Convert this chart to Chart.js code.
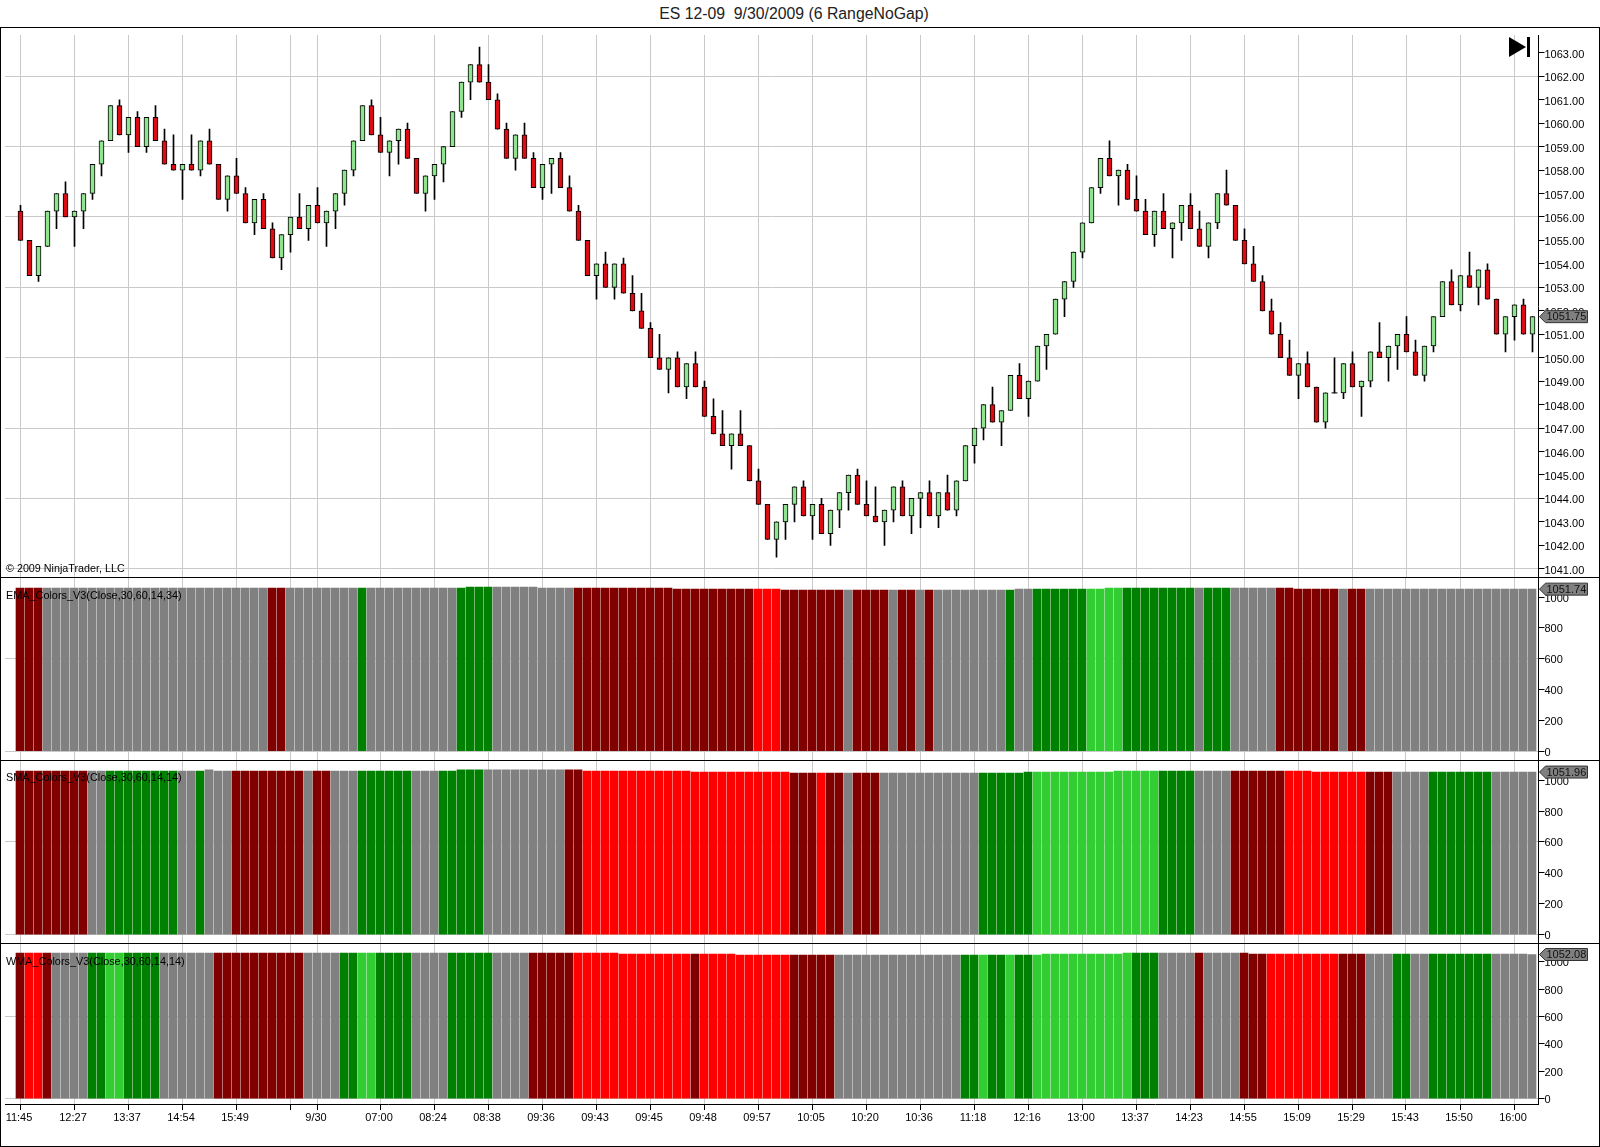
<!DOCTYPE html>
<html>
<head>
<meta charset="utf-8">
<title>ES 12-09 9/30/2009</title>
<script src="https://cdn.jsdelivr.net/npm/chart.js@4/dist/chart.umd.min.js"></script>
<style>
  html, body { margin: 0; padding: 0; background: #fff; overflow: hidden; }
  body { width: 1600px; height: 1147px; position: relative; font-family: "Liberation Sans", Arial, sans-serif; }
  canvas { position: absolute; left: 5px; display: block; }
  .frame { position: absolute; left: 0; top: 27px; width: 1600px; height: 1120px; box-sizing: border-box; border: 1px solid #000; }
  .divider { position: absolute; left: 0; width: 1600px; height: 1px; background: #000; z-index: 2; }
  .title { position: absolute; left: 0; width: 1588px; top: 5px; text-align: center; font-size: 15.8px; color: #222; white-space: pre; }
  .note { position: absolute; left: 6px; font-size: 10.87px; color: #000; z-index: 3; white-space: pre; }
  .skip { position: absolute; left: 1509px; top: 37px; z-index: 3; }
</style>
</head>
<body>
<div class="title">ES 12-09  9/30/2009 (6 RangeNoGap)</div>
<div class="frame"></div>
<canvas id="priceChart" width="1595" height="548" style="top:29px"></canvas>
<canvas id="emaChart" width="1595" height="183" style="top:578px"></canvas>
<canvas id="smaChart" width="1595" height="183" style="top:761px"></canvas>
<canvas id="wmaChart" width="1595" height="202" style="top:944px"></canvas>
<div class="divider" style="top:577px"></div>
<div class="divider" style="top:760px"></div>
<div class="divider" style="top:943px"></div>
<div class="note" style="top:562px;font-size:10.75px">© 2009 NinjaTrader, LLC</div>
<div class="note" style="top:589px">EMA_Colors_V3(Close,30,60,14,34)</div>
<div class="note" style="top:771px">SMA_Colors_V3(Close,30,60,14,14)</div>
<div class="note" style="top:955px">WMA_Colors_V3(Close,30,60,14,14)</div>
<svg class="skip" width="22" height="21"><path d="M0 0L17 10L0 20Z" fill="#000"/><rect x="18" y="0" width="3" height="20" fill="#000"/></svg>
<script>
// Candles, one row per 10 bars
const opens = [
  1056.25,1055,1053.5,1054.75,1056.25,1057,1056,1056.25,1057,1058.25,
  1059.25,1060.75,1059.5,1060.25,1059,1060.25,1059.25,1058.25,1058,1058.25,
  1058,1059.25,1058.25,1056.75,1057.75,1057,1055.75,1056.75,1055.5,1054.25,
  1055.25,1056,1055.5,1056.5,1055.75,1056.25,1057,1058,1059.25,1060.75,
  1059.5,1058.75,1059.25,1059.75,1058.5,1057,1057.75,1058.25,1059,1060.5,
  1061.75,1062.5,1061.75,1061,1059.75,1058.5,1059.5,1058.5,1057.25,1058.25,
  1058.5,1057.25,1056.25,1055,1053.5,1054,1053,1054,1052.75,1052,
  1051.25,1050,1049.5,1050,1048.75,1049.75,1048.75,1047.5,1046.75,1046.25,
  1046.75,1046.25,1044.75,1043.75,1042.25,1043,1043.75,1044.5,1043.25,1043.75,
  1042.5,1043.5,1044.25,1045,1043.75,1043.25,1043,1043.5,1044.5,1043.25,
  1044,1044.25,1043.25,1044.25,1043.5,1044.75,1046.25,1047,1048,1047.25,
  1047.75,1049.25,1048.25,1049,1050.5,1051,1052.5,1053.25,1054.5,1055.75,
  1057.25,1058.5,1057.75,1058,1056.75,1056.25,1055.25,1056.25,1055.5,1055.75,
  1056.5,1055.5,1054.75,1055.75,1057,1056.5,1055,1054,1053.25,1052,
  1051,1050,1049.25,1049.75,1048.75,1047.25,1048.5,1048.5,1049.75,1048.75,
  1049,1050.25,1050,1050.5,1051,1050.25,1049.25,1050.5,1051.75,1053.25,
  1052.25,1053.5,1053,1053.75,1052.5,1051,1051.75,1052.25,1051
];
const highs = [
  1056.5,1055,1054.75,1056.25,1057,1057.5,1056.25,1057,1058.25,1059.25,
  1060.75,1061,1060.25,1060.5,1060.25,1060.75,1059.75,1059.5,1058.25,1059.5,
  1059.25,1059.75,1058.25,1057.75,1058.5,1057.25,1056.75,1057,1055.75,1055.25,
  1056,1057,1056.5,1057.25,1056.25,1057,1058,1059.25,1060.75,1061,
  1060.25,1059.25,1059.75,1060,1058.5,1057.75,1058.25,1059,1060.5,1061.75,
  1062.5,1063.25,1062.5,1061.25,1060,1059.5,1060,1058.75,1058.25,1058.5,
  1058.75,1057.75,1056.5,1055,1054,1054.5,1054,1054.25,1053.5,1052.75,
  1051.5,1051,1050,1050.25,1049.75,1050.25,1049,1048.25,1047.75,1046.75,
  1047.75,1046.25,1045.25,1043.75,1043,1043.75,1044.5,1044.75,1043.75,1044,
  1043.5,1044.25,1045,1045.25,1044.75,1044.5,1043.5,1044.5,1044.75,1044,
  1044.25,1044.75,1044.25,1045,1044.75,1046.25,1047,1048,1048.75,1047.75,
  1049.25,1049.75,1049,1050.5,1051,1052.5,1053.25,1054.5,1055.75,1057.25,
  1058.5,1059.25,1058,1058.25,1057.75,1056.75,1056.25,1057,1055.75,1056.5,
  1057,1056.25,1055.75,1057,1058,1056.5,1055.5,1054.75,1053.5,1052.5,
  1051.5,1050.75,1049.75,1050.25,1048.75,1048.5,1050,1049.75,1050.25,1049,
  1050.25,1051.5,1050.5,1051,1051.75,1050.75,1050.5,1051.75,1053.25,1053.75,
  1053.5,1054.5,1053.75,1054,1052.5,1051.75,1052.25,1052.5,1051.75
];
const lows = [
  1055,1053.5,1053.25,1054.75,1055.5,1056,1054.75,1055.5,1056.75,1057.75,
  1059.25,1059.5,1058.75,1059,1058.75,1059.25,1058.25,1058,1056.75,1058,
  1057.75,1058.25,1056.75,1056.25,1057,1055.75,1055.25,1055.5,1054.25,1053.75,
  1054.5,1055.5,1055,1055.75,1054.75,1055.5,1056.5,1057.75,1059.25,1059.5,
  1058.75,1057.75,1058.25,1058.5,1057,1056.25,1056.75,1057.5,1059,1060.25,
  1061,1061.75,1061,1059.75,1058.5,1058,1058.5,1057.25,1056.75,1057,
  1057.25,1056.25,1055,1053.5,1052.5,1053,1052.5,1052.75,1052,1051.25,
  1050,1049.5,1048.5,1048.75,1048.25,1048.75,1047.5,1046.75,1046.25,1045.25,
  1046.25,1044.75,1043.75,1042.25,1041.5,1042.25,1043,1043.25,1042.25,1042.5,
  1042,1042.75,1043.5,1043.75,1043.25,1043,1042,1043,1043.25,1042.5,
  1042.75,1043.25,1042.75,1043.5,1043.25,1044.75,1045.5,1046.5,1047.25,1046.25,
  1047.75,1048.25,1047.5,1049,1049.5,1051,1051.75,1053,1054.25,1055.75,
  1057,1057.75,1056.5,1056.75,1056.25,1055.25,1054.75,1055.5,1054.25,1055,
  1055.5,1054.75,1054.25,1055.5,1056.5,1055,1054,1053.25,1052,1051,
  1050,1049.25,1048.25,1048.75,1047.25,1047,1048.5,1048.25,1048.75,1047.5,
  1048.75,1050,1049,1049.5,1050.25,1049.25,1049,1050.25,1051.75,1052.25,
  1052,1053,1052.25,1052.5,1051,1050.25,1050.75,1051,1050.25
];
const closes = [
  1055,1053.5,1054.75,1056.25,1057,1056,1056.25,1057,1058.25,1059.25,
  1060.75,1059.5,1060.25,1059,1060.25,1059.25,1058.25,1058,1058.25,1058,
  1059.25,1058.25,1056.75,1057.75,1057,1055.75,1056.75,1055.5,1054.25,1055.25,
  1056,1055.5,1056.5,1055.75,1056.25,1057,1058,1059.25,1060.75,1059.5,
  1058.75,1059.25,1059.75,1058.5,1057,1057.75,1058.25,1059,1060.5,1061.75,
  1062.5,1061.75,1061,1059.75,1058.5,1059.5,1058.5,1057.25,1058.25,1058.5,
  1057.25,1056.25,1055,1053.5,1054,1053,1054,1052.75,1052,1051.25,
  1050,1049.5,1050,1048.75,1049.75,1048.75,1047.5,1046.75,1046.25,1046.75,
  1046.25,1044.75,1043.75,1042.25,1043,1043.75,1044.5,1043.25,1043.75,1042.5,
  1043.5,1044.25,1045,1043.75,1043.25,1043,1043.5,1044.5,1043.25,1044,
  1044.25,1043.25,1044.25,1043.5,1044.75,1046.25,1047,1048,1047.25,1047.75,
  1049.25,1048.25,1049,1050.5,1051,1052.5,1053.25,1054.5,1055.75,1057.25,
  1058.5,1057.75,1058,1056.75,1056.25,1055.25,1056.25,1055.5,1055.75,1056.5,
  1055.5,1054.75,1055.75,1057,1056.5,1055,1054,1053.25,1052,1051,
  1050,1049.25,1049.75,1048.75,1047.25,1048.5,1048.5,1049.75,1048.75,1049,
  1050.25,1050,1050.5,1051,1050.25,1049.25,1050.5,1051.75,1053.25,1052.25,
  1053.5,1053,1053.75,1052.5,1051,1051.75,1052.25,1051,1051.75
];

// Indicator panes: bar height is the moving average, colour is its trend state
const emaValues = [
  1059,1059,1059,1059,1059,1059,1059,1059,1059,1059,
  1059,1059,1059,1059,1059,1059,1059,1059,1059,1059,
  1059,1059,1059,1059,1059,1059,1059,1059,1059,1059,
  1059,1059,1059,1059,1059,1059,1059,1059,1059,1059,
  1059,1059,1059,1059,1059,1059,1059,1059,1059,1059,
  1065,1065,1065,1065,1065,1065,1065,1065,1059,1059,
  1059,1059,1059,1059,1059,1059,1059,1059,1059,1059,
  1059,1059,1059,1052,1052,1052,1052,1052,1052,1052,
  1052,1052,1052,1052,1052,1046,1046,1046,1046,1046,
  1046,1046,1046,1046,1046,1046,1046,1046,1046,1046,
  1046,1046,1046,1046,1046,1046,1046,1046,1046,1046,
  1046,1052,1052,1052,1052,1052,1052,1052,1052,1052,
  1052,1059,1059,1059,1059,1059,1059,1059,1059,1059,
  1059,1059,1059,1059,1059,1059,1059,1059,1059,1059,
  1059,1059,1052,1052,1052,1052,1052,1052,1052,1052,
  1052,1052,1052,1052,1052,1052,1052,1052,1052,1052,
  1052,1052,1052,1052,1052,1052,1052,1052,1051.74
];
const smaValues = [
  1059,1059,1059,1059,1059,1059,1059,1059,1059,1059,
  1059,1059,1059,1059,1059,1059,1059,1059,1059,1059,
  1059,1066,1059,1059,1059,1059,1059,1059,1059,1059,
  1059,1059,1059,1059,1059,1059,1059,1059,1059,1059,
  1059,1059,1059,1059,1059,1059,1059,1059,1059,1066,
  1066,1066,1066,1066,1066,1066,1066,1066,1066,1066,
  1066,1066,1066,1059,1059,1059,1059,1059,1059,1059,
  1059,1059,1059,1059,1059,1052,1052,1052,1052,1052,
  1052,1052,1052,1052,1052,1052,1046,1046,1046,1046,
  1046,1046,1046,1046,1046,1046,1046,1046,1046,1046,
  1046,1046,1046,1046,1046,1046,1046,1046,1046,1046,
  1046,1046,1052,1052,1052,1052,1052,1052,1052,1052,
  1052,1052,1059,1059,1059,1059,1059,1059,1059,1059,
  1059,1059,1059,1059,1059,1059,1059,1059,1059,1059,
  1059,1059,1059,1059,1052,1052,1052,1052,1052,1052,
  1052,1052,1052,1052,1052,1052,1052,1052,1052,1052,
  1052,1052,1052,1052,1052,1052,1052,1052,1051.96
];
const wmaValues = [
  1063,1063,1063,1063,1063,1063,1063,1063,1063,1063,
  1063,1063,1063,1063,1063,1063,1063,1063,1063,1063,
  1063,1063,1063,1063,1063,1063,1063,1063,1063,1063,
  1063,1063,1063,1063,1063,1063,1063,1063,1063,1063,
  1063,1063,1063,1063,1063,1063,1063,1063,1063,1063,
  1063,1063,1063,1063,1063,1063,1063,1063,1063,1063,
  1063,1063,1063,1063,1063,1063,1063,1056,1056,1056,
  1056,1056,1056,1056,1056,1056,1056,1056,1056,1056,
  1048,1048,1048,1048,1048,1048,1048,1048,1048,1048,
  1048,1048,1048,1048,1048,1048,1048,1048,1048,1048,
  1048,1048,1048,1048,1048,1048,1048,1048,1048,1048,
  1048,1048,1048,1048,1056,1056,1056,1056,1056,1056,
  1056,1056,1056,1063,1063,1063,1063,1063,1063,1063,
  1063,1063,1063,1063,1063,1063,1063,1056,1056,1056,
  1056,1056,1056,1056,1056,1056,1056,1056,1056,1056,
  1056,1056,1056,1056,1056,1056,1056,1056,1056,1056,
  1056,1056,1056,1056,1056,1056,1056,1056,1052.08
];
// [state, number of bars]: D dark red, R red, N neutral, G green, L light green
const emaStates = [['D',3],['N',25],['D',2],['N',8],['G',1],['N',10],['G',4],['N',9],['D',20],['R',3],['D',7],['N',1],['D',4],['N',1],['D',2],['N',1],['D',1],['N',8],['G',1],['N',2],['G',6],['L',4],['G',8],['N',1],['G',3],['N',5],['D',7],['N',1],['D',2],['N',19]];
const smaStates = [['D',8],['N',2],['G',8],['N',2],['G',1],['N',3],['D',8],['N',1],['D',2],['N',3],['G',6],['N',3],['G',5],['N',9],['D',2],['R',23],['D',3],['R',1],['D',2],['N',1],['D',3],['N',11],['G',6],['L',14],['G',4],['N',4],['D',6],['R',9],['D',3],['N',4],['G',7],['N',5]];
const wmaStates = [['D',1],['R',2],['D',1],['N',4],['G',2],['L',2],['G',4],['N',6],['D',10],['N',4],['G',2],['L',2],['G',4],['N',4],['G',5],['N',4],['D',5],['R',13],['D',1],['R',10],['D',5],['N',14],['G',2],['L',1],['G',2],['L',1],['G',2],['L',11],['G',3],['N',4],['D',1],['N',4],['D',3],['R',8],['D',3],['N',3],['G',2],['N',2],['G',7],['N',5]];

// Axes
const timeTickBars = [0,6,12,18,24,30,33,40,46,52,58,64,70,76,82,88,94,100,106,112,118,124,130,136,142,148,154,160,166];
const timeTickLabels = ['11:45','12:27','13:37','14:54','15:49','','9/30','07:00','08:24','08:38','09:36','09:43','09:45','09:48','09:57','10:05','10:20','10:36','11:18','12:16','13:00','13:37','14:23','14:55','15:09','15:29','15:43','15:50','16:00'];
const priceTicks = [1041,1042,1043,1044,1045,1046,1047,1048,1049,1050,1051,1052,1053,1054,1055,1056,1057,1058,1059,1060,1061,1062,1063];
const priceGridLines = [1041,1044,1047,1050,1053,1056,1059,1062];
const bandTicks = [0,200,400,600,800,1000];
const bandGridLines = [0,600];

const stateColors = { D: '#800000', R: '#ff0000', N: '#808080', G: '#008000', L: '#32cd32' };
const FONT = { family: '"Liberation Sans", Arial, sans-serif', size: 11 };
const GRID_COLOR = '#c9c9c9';
const AREA_WIDTH = 1533.5;
const BAR_STEP = 9;

Chart.defaults.animation = false;
Chart.defaults.responsive = false;

function expandStates(runs) {
    const out = [];
    runs.forEach(([state, count]) => {
        for (let i = 0; i < count; i++) out.push(stateColors[state]);
    });
    return out;
}

// Grey arrow tag on the price axis with the last value
const lastValueTag = {
    id: 'lastValueTag',
    afterDraw(chart, args, opts) {
        const y = chart.scales.y.getPixelForValue(opts.value);
        const left = chart.chartArea.right + 1;
        const ctx = chart.ctx;
        ctx.save();
        ctx.beginPath();
        ctx.moveTo(left, y);
        ctx.lineTo(left + 6, y - 6);
        ctx.lineTo(left + 48, y - 6);
        ctx.lineTo(left + 48, y + 6);
        ctx.lineTo(left + 6, y + 6);
        ctx.closePath();
        ctx.fillStyle = '#808080';
        ctx.fill();
        ctx.strokeStyle = '#333';
        ctx.lineWidth = 1;
        ctx.stroke();
        ctx.fillStyle = '#111';
        ctx.font = '11px "Liberation Sans", Arial, sans-serif';
        ctx.textAlign = 'left';
        ctx.textBaseline = 'middle';
        ctx.fillText(opts.value.toFixed(2), left + 7, y + 0.5);
        ctx.restore();
    }
};

function xScale(firstBarOffset, showTime) {
    const min = -firstBarOffset / BAR_STEP;
    return {
        type: 'linear',
        offset: false,
        min: min,
        max: min + AREA_WIDTH / BAR_STEP,
        afterBuildTicks: (s) => { s.ticks = timeTickBars.map(v => ({ value: v })); },
        afterFit: (s) => {
            s.height = showTime ? 42 : 0;
            s.paddingLeft = 0;
            s.paddingRight = 0;
        },
        border: { display: showTime, color: '#000' },
        grid: { offset: false, color: GRID_COLOR, tickColor: '#000', drawTicks: showTime, tickLength: 6 },
        ticks: {
            display: showTime,
            autoSkip: false,
            maxRotation: 0,
            padding: 1,
            labelOffset: -1,
            color: '#000',
            font: FONT,
            callback: (v) => timeTickLabels[timeTickBars.indexOf(v)]
        }
    };
}

function yScale(min, max, ticks, gridLines, labelOffset, fmt) {
    return {
        position: 'right',
        min: min,
        max: max,
        afterBuildTicks: (s) => { s.ticks = ticks.map(v => ({ value: v })); },
        afterFit: (s) => {
            s.width = 61.5;
            s.paddingTop = 0;
            s.paddingBottom = 0;
        },
        border: { display: true, color: '#000' },
        grid: {
            color: (c) => gridLines.includes(c.tick.value) ? GRID_COLOR : 'rgba(0,0,0,0)',
            tickColor: '#000',
            tickLength: 6
        },
        ticks: { padding: 0, labelOffset: labelOffset, color: '#000', font: FONT, callback: fmt }
    };
}

function drawPrice() {
    const bars = opens.map((o, i) => i);
    new Chart(document.getElementById('priceChart'), {
        type: 'bar',
        data: {
            datasets: [
                {
                    label: 'Wick',
                    data: bars.map(i => ({ x: i, y: [lows[i], highs[i]] })),
                    grouped: false,
                    barThickness: 1,
                    backgroundColor: '#000',
                    order: 3
                },
                {
                    label: 'Body',
                    data: bars.filter(i => opens[i] !== closes[i]).map(i => ({ x: i, y: [opens[i], closes[i]] })),
                    grouped: false,
                    barThickness: 5,
                    borderWidth: 1,
                    borderSkipped: false,
                    borderColor: '#000',
                    backgroundColor: (c) => {
                        const p = c.raw ? c.raw.y : null;
                        return p && p[1] > p[0] ? '#90e490' : '#dc0c14';
                    },
                    order: 2
                },
                {
                    // open == close has no body, only a flat tick
                    type: 'scatter',
                    label: 'Doji',
                    data: bars.filter(i => opens[i] === closes[i]).map(i => ({ x: i, y: closes[i] })),
                    pointStyle: 'line',
                    pointRadius: 3,
                    borderColor: '#000',
                    borderWidth: 1,
                    order: 1
                }
            ]
        },
        options: {
            layout: { autoPadding: false, padding: { top: 6, bottom: 0, left: 0, right: 0 } },
            plugins: {
                legend: { display: false },
                tooltip: { enabled: false },
                lastValueTag: { value: closes[closes.length - 1] }
            },
            scales: {
                x: xScale(15.5, false),
                y: yScale(1040.65, 1063.76, priceTicks, priceGridLines, 2, (v) => v.toFixed(2))
            }
        },
        plugins: [lastValueTag]
    });
}

function drawBand(id, values, states, min, max, showTime) {
    new Chart(document.getElementById(id), {
        type: 'bar',
        data: {
            datasets: [{
                label: id,
                data: values.map((v, i) => ({ x: i, y: v })),
                barThickness: 8,
                backgroundColor: expandStates(states)
            }]
        },
        options: {
            layout: { autoPadding: false, padding: 0 },
            plugins: {
                legend: { display: false },
                tooltip: { enabled: false },
                lastValueTag: { value: values[values.length - 1] }
            },
            scales: {
                x: xScale(15, showTime),
                y: yScale(min, max, bandTicks, bandGridLines, 1.5, (v) => String(v))
            }
        },
        plugins: [lastValueTag]
    });
}

drawPrice();
drawBand('emaChart', emaValues, emaStates, -63.3, 1124, false);
drawBand('smaChart', smaValues, smaStates, -60.5, 1123.6, false);
drawBand('wmaChart', wmaValues, wmaStates, -38, 1128.7, true);
</script>
</body>
</html>
